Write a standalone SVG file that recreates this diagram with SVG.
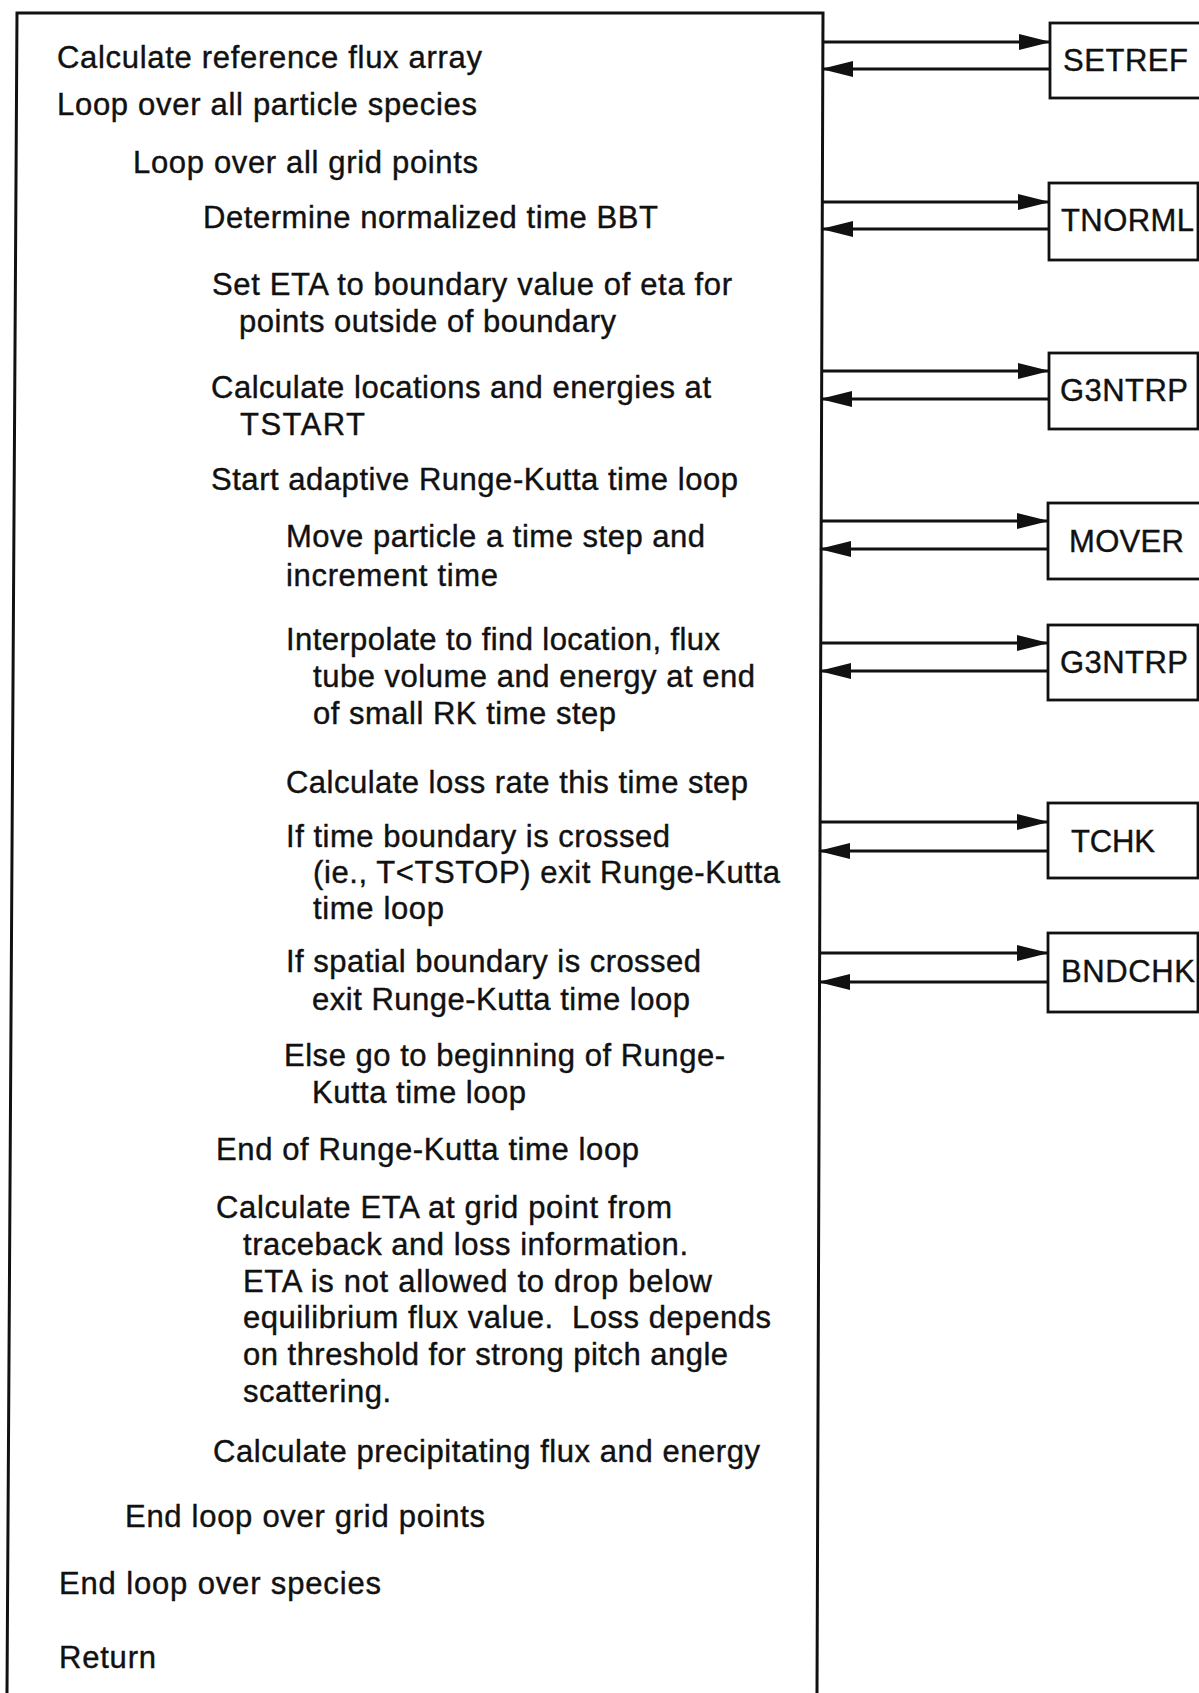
<svg xmlns="http://www.w3.org/2000/svg" width="1199" height="1693" viewBox="0 0 1199 1693">
<style>
.t{font-family:"Liberation Sans",Arial,Helvetica,sans-serif;font-size:31px;fill:#111;stroke:#111;stroke-width:0.4}
.b{fill:#fff;stroke:#111;stroke-width:2.8}
.c{stroke:#111;stroke-width:3;fill:none}
.m{fill:none;stroke:#111;stroke-width:3}
</style>
<defs>
<marker id="ah" viewBox="0 0 32 16" refX="31" refY="8" markerWidth="32" markerHeight="16" markerUnits="userSpaceOnUse" orient="auto">
<path d="M0,0 L32,8 L0,16 Z" fill="#111"/>
</marker>
</defs>
<rect width="1199" height="1693" fill="#fff"/>
<g id="main">
<path class="m" d="M7,1693 L17,13 L823,13 L817,1693"/>
<text class="t" x="57" y="68" textLength="425" lengthAdjust="spacing">Calculate reference flux array</text>
<text class="t" x="57" y="115" textLength="420" lengthAdjust="spacing">Loop over all particle species</text>
<text class="t" x="133" y="173" textLength="345" lengthAdjust="spacing">Loop over all grid points</text>
<text class="t" x="203" y="228" textLength="455" lengthAdjust="spacing">Determine normalized time BBT</text>
<text class="t" x="212" y="295" textLength="520" lengthAdjust="spacing">Set ETA to boundary value of eta for</text>
<text class="t" x="239" y="332" textLength="377" lengthAdjust="spacing">points outside of boundary</text>
<text class="t" x="211" y="398" textLength="500" lengthAdjust="spacing">Calculate locations and energies at</text>
<text class="t" x="240" y="435" textLength="125" lengthAdjust="spacing">TSTART</text>
<text class="t" x="211" y="490" textLength="527" lengthAdjust="spacing">Start adaptive Runge-Kutta time loop</text>
<text class="t" x="286" y="547" textLength="419" lengthAdjust="spacing">Move particle a time step and</text>
<text class="t" x="286" y="586" textLength="212" lengthAdjust="spacing">increment time</text>
<text class="t" x="286" y="650" textLength="434" lengthAdjust="spacing">Interpolate to find location, flux</text>
<text class="t" x="313" y="687" textLength="442" lengthAdjust="spacing">tube volume and energy at end</text>
<text class="t" x="313" y="724" textLength="303" lengthAdjust="spacing">of small RK time step</text>
<text class="t" x="286" y="793" textLength="462" lengthAdjust="spacing">Calculate loss rate this time step</text>
<text class="t" x="286" y="847" textLength="384" lengthAdjust="spacing">If time boundary is crossed</text>
<text class="t" x="313" y="883" textLength="467" lengthAdjust="spacing">(ie., T&lt;TSTOP) exit Runge-Kutta</text>
<text class="t" x="313" y="919" textLength="131" lengthAdjust="spacing">time loop</text>
<text class="t" x="286" y="972" textLength="415" lengthAdjust="spacing">If spatial boundary is crossed</text>
<text class="t" x="312" y="1010" textLength="378" lengthAdjust="spacing">exit Runge-Kutta time loop</text>
<text class="t" x="284" y="1066" textLength="441" lengthAdjust="spacing">Else go to beginning of Runge-</text>
<text class="t" x="312" y="1103" textLength="214" lengthAdjust="spacing">Kutta time loop</text>
<text class="t" x="216" y="1160" textLength="423" lengthAdjust="spacing">End of Runge-Kutta time loop</text>
<text class="t" x="216" y="1218" textLength="456" lengthAdjust="spacing">Calculate ETA at grid point from</text>
<text class="t" x="243" y="1255" textLength="445" lengthAdjust="spacing">traceback and loss information.</text>
<text class="t" x="243" y="1292" textLength="469" lengthAdjust="spacing">ETA is not allowed to drop below</text>
<text class="t" x="243" y="1328" textLength="528" lengthAdjust="spacing" xml:space="preserve">equilibrium flux value.  Loss depends</text>
<text class="t" x="243" y="1365" textLength="485" lengthAdjust="spacing">on threshold for strong pitch angle</text>
<text class="t" x="243" y="1402" textLength="148" lengthAdjust="spacing">scattering.</text>
<text class="t" x="213" y="1462" textLength="547" lengthAdjust="spacing">Calculate precipitating flux and energy</text>
<text class="t" x="125" y="1527" textLength="360" lengthAdjust="spacing">End loop over grid points</text>
<text class="t" x="59" y="1594" textLength="322" lengthAdjust="spacing">End loop over species</text>
<text class="t" x="59" y="1668" textLength="97" lengthAdjust="spacing">Return</text>
</g>
<g id="setref"><rect class="b" x="1050" y="23" width="152" height="75"/><text class="t" x="1063" y="71" textLength="125" lengthAdjust="spacing">SETREF</text></g>
<g id="tnorml"><rect class="b" x="1049" y="183" width="149" height="77"/><text class="t" x="1061" y="231" textLength="133" lengthAdjust="spacing">TNORML</text></g>
<g id="g3ntrp1"><rect class="b" x="1049" y="353" width="149" height="76"/><text class="t" x="1060" y="401" textLength="128" lengthAdjust="spacing">G3NTRP</text></g>
<g id="mover"><rect class="b" x="1048" y="503" width="154" height="76"/><text class="t" x="1069" y="552" textLength="115" lengthAdjust="spacing">MOVER</text></g>
<g id="g3ntrp2"><rect class="b" x="1048" y="625" width="150" height="75"/><text class="t" x="1060" y="673" textLength="128" lengthAdjust="spacing">G3NTRP</text></g>
<g id="tchk"><rect class="b" x="1048" y="803" width="150" height="75"/><text class="t" x="1071" y="852" textLength="84" lengthAdjust="spacing">TCHK</text></g>
<g id="bndchk"><rect class="b" x="1048" y="933" width="150" height="79"/><text class="t" x="1061" y="982" textLength="134" lengthAdjust="spacing">BNDCHK</text></g>
<g id="connectors">
<line class="c" x1="822" y1="42" x2="1050" y2="42" marker-end="url(#ah)"/>
<line class="c" x1="1050" y1="69" x2="822" y2="69" marker-end="url(#ah)"/>
<line class="c" x1="822" y1="202" x2="1049" y2="202" marker-end="url(#ah)"/>
<line class="c" x1="1049" y1="229" x2="822" y2="229" marker-end="url(#ah)"/>
<line class="c" x1="821" y1="371" x2="1049" y2="371" marker-end="url(#ah)"/>
<line class="c" x1="1049" y1="399" x2="821" y2="399" marker-end="url(#ah)"/>
<line class="c" x1="820" y1="521" x2="1048" y2="521" marker-end="url(#ah)"/>
<line class="c" x1="1048" y1="549" x2="820" y2="549" marker-end="url(#ah)"/>
<line class="c" x1="820" y1="643" x2="1048" y2="643" marker-end="url(#ah)"/>
<line class="c" x1="1048" y1="671" x2="820" y2="671" marker-end="url(#ah)"/>
<line class="c" x1="819" y1="822" x2="1048" y2="822" marker-end="url(#ah)"/>
<line class="c" x1="1048" y1="851" x2="819" y2="851" marker-end="url(#ah)"/>
<line class="c" x1="819" y1="953" x2="1048" y2="953" marker-end="url(#ah)"/>
<line class="c" x1="1048" y1="982" x2="819" y2="982" marker-end="url(#ah)"/>
</g>
</svg>
